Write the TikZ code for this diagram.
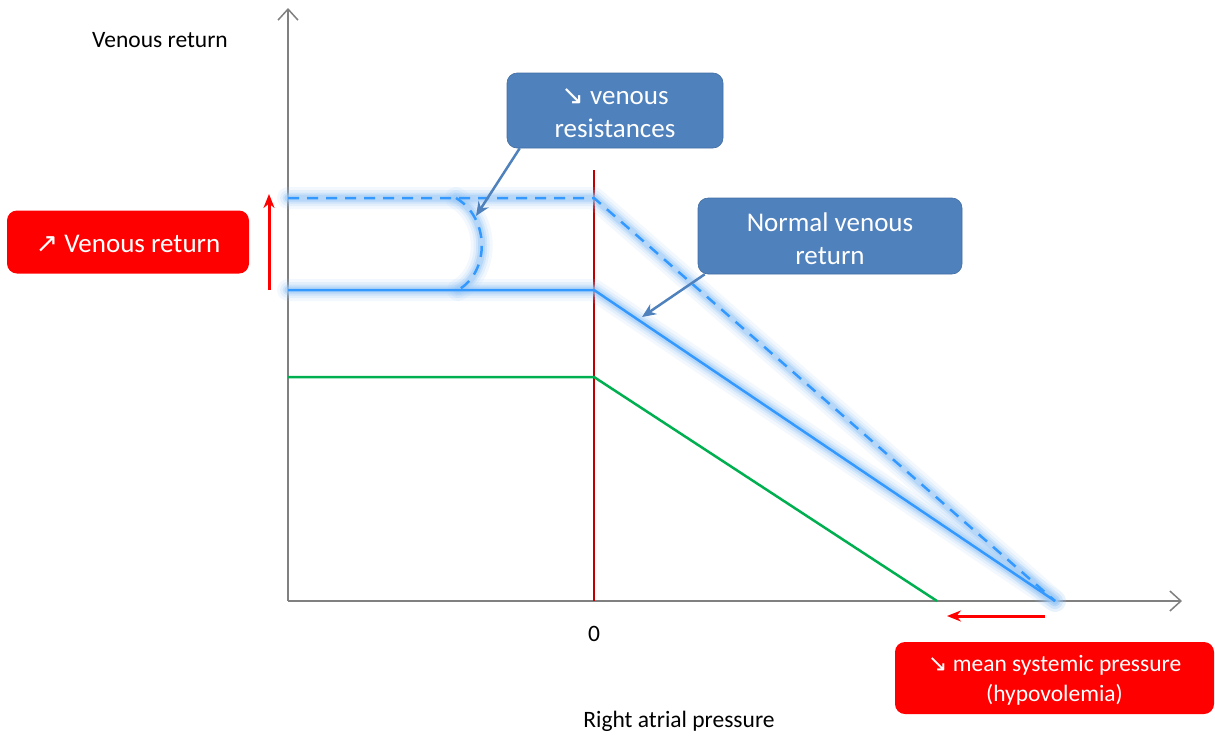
\documentclass[tikz,border=0pt]{standalone}
\usepackage{fontspec}
\setmainfont{Carlito}
\newfontfamily\symfont{DejaVu Sans}
\usetikzlibrary{arrows.meta}
\definecolor{axisgray}{HTML}{808080}
\definecolor{curveblue}{HTML}{3399FF}
\definecolor{glowblue}{HTML}{9CC8F5}
\definecolor{calloutblue}{HTML}{4F81BD}
\definecolor{zeroline}{HTML}{C00000}
\definecolor{curvegreen}{HTML}{00B050}
\tikzset{
  axisline/.style={draw=axisgray, line width=1.5pt, -{Straight Barb[length=11pt,width=20pt,line width=1.5pt]}},
  glow/.style={draw=glowblue, line cap=round, line join=round},
  bluecurve/.style={draw=curveblue, line width=2.5pt, line join=round},
  boxtext/.style={text=white, align=center, font=\fontsize{27}{33}\selectfont, inner sep=0pt},
  smallboxtext/.style={text=white, align=center, font=\fontsize{23.5}{30}\selectfont, inner sep=0pt},
  callout/.style={fill=calloutblue, draw=calloutblue!85!black, line width=0.6pt, rounded corners=10pt, inner sep=0pt},
  redbox/.style={fill=red, rounded corners=10pt, inner sep=0pt},
  pointer/.style={draw=calloutblue, line width=2.5pt, -{Stealth[length=14pt,width=12pt]}},
  redarrow/.style={draw=red, line width=3pt, -{Stealth[length=14pt,width=11pt]}},
  axislabel/.style={font=\fontsize{23.5}{28}\selectfont, inner sep=0pt},
}
\newcommand{\arrowsym}[2][27]{{\symfont\fontsize{#1}{33}\selectfont #2}}
\newcommand{\glowpath}[1]{%
  \path[glow, line width=22pt, opacity=0.12] #1;
  \path[glow, line width=16pt, opacity=0.18] #1;
  \path[glow, line width=11pt, opacity=0.3] #1;
  \path[glow, line width=7pt, opacity=0.45] #1;
}
\begin{document}
\begin{tikzpicture}[x=1pt, y=-1pt]
\useasboundingbox (0,0) rectangle (1215,737);

% axes
\coordinate (O) at (288,601);
\coordinate (ytop) at (288,8);
\coordinate (xend) at (1182,601);
\draw[axisline] (O) -- (ytop);
\draw[axisline] (O) -- (xend);

% right atrial pressure = 0
\coordinate (z0) at (594,601);
\coordinate (z1) at (594,170);
\draw[zeroline, line width=1.5pt] (z0) -- (z1);

% key points of the curves
\coordinate (dA) at (288,198);
\coordinate (dB) at (594,198);
\coordinate (sA) at (288,290);
\coordinate (sB) at (594,290);
\coordinate (msp) at (1055,601);
\coordinate (gA) at (288,377);
\coordinate (gB) at (594,377);
\coordinate (gC) at (937,601);
\coordinate (arcTop) at (456,198);
\coordinate (arcBot) at (458,290);

% glow behind the blue curves
\glowpath{(dA) -- (dB) -- (msp)}
\glowpath{(sA) -- (sB) -- (msp)}
\glowpath{(arcTop) .. controls (490,218) and (490,272) .. (arcBot)}

% curves
\draw[bluecurve, dash pattern=on 11pt off 8pt] (dA) -- (dB) -- (msp);
\draw[bluecurve] (sA) -- (sB) -- (msp);
\draw[bluecurve, dash pattern=on 11pt off 8pt] (arcTop) .. controls (490,218) and (490,272) .. (arcBot);
\draw[curvegreen, line width=2.5pt, line join=round] (gA) -- (gB) -- (gC);

% callouts
\node[callout, minimum width=216pt, minimum height=75pt] (res) at (615,110.5) {};
\node[boxtext] (resText) at ([yshift=-3pt]res.center) {\arrowsym{↘} venous\\resistances};
\node[callout, minimum width=264pt, minimum height=76pt] (norm) at (830,236) {};
\node[boxtext] (normText) at ([yshift=-3pt]norm.center) {Normal venous\\return};
\coordinate (resTip) at (476,216);
\coordinate (normTip) at (642,317);
\coordinate (resFoot) at ([xshift=13pt]res.south west);
\coordinate (normFoot) at ([xshift=7pt]norm.south west);
\draw[pointer] (resFoot) -- (resTip);
\draw[pointer] (normFoot) -- (normTip);

% red annotations
\node[redbox, minimum width=242pt, minimum height=63pt] (vr) at (128,242) {};
\node[boxtext] (vrText) at ([yshift=-2pt]vr.center) {\arrowsym{↗} Venous return};
\node[redbox, minimum width=319pt, minimum height=72pt] (mspBox) at (1054.5,678) {};
\node[smallboxtext] (mspText) at ([yshift=-2pt]mspBox.center) {\arrowsym[23.5]{↘} mean systemic pressure\\(hypovolemia)};
\coordinate (upFrom) at (269,290);
\coordinate (upTo) at (269,194);
\draw[redarrow] (upFrom) -- (upTo);
\coordinate (leftFrom) at (1045,616);
\coordinate (leftTo) at (947,616);
\draw[redarrow] (leftFrom) -- (leftTo);

% axis labels
\node[axislabel] (ylab) at (160,40) {Venous return};
\node[axislabel] (zero) at (594,634) {0};
\node[axislabel] (xlab) at (679,721) {Right atrial pressure};
\end{tikzpicture}
\end{document}
